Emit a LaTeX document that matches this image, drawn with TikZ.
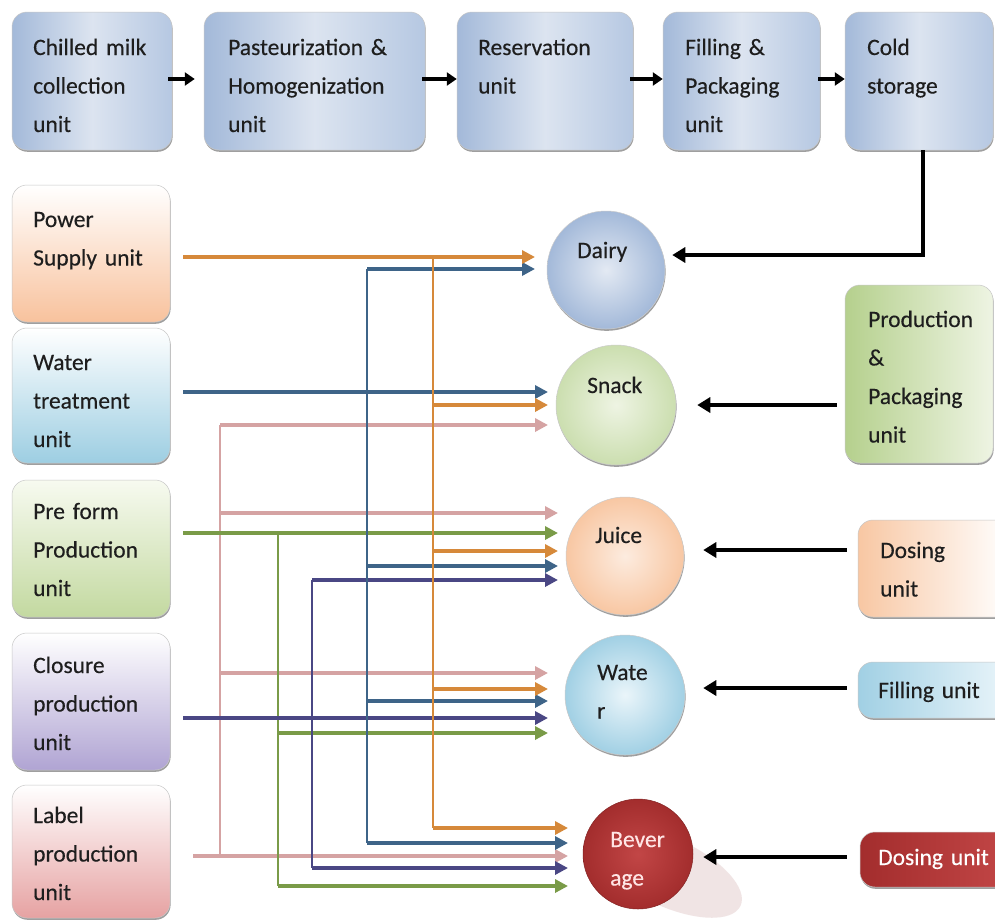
\documentclass[tikz,border=0pt]{standalone}
\usepackage{fontspec}
\setmainfont{Carlito}[FakeBold=0.35]
\usetikzlibrary{arrows.meta,shadows}
\definecolor{txtc}{HTML}{1E1E1E}
\definecolor{tpA}{HTML}{A3B9D9}
\definecolor{tpB}{HTML}{DCE4F0}
\definecolor{tpC}{HTML}{B6C8E2}
\definecolor{pwB}{HTML}{F8C29D}
\definecolor{wtB}{HTML}{9DCEE2}
\definecolor{pfT}{HTML}{F7FAF0}
\definecolor{pfB}{HTML}{C3D9A0}
\definecolor{clB}{HTML}{B0A4D3}
\definecolor{lbB}{HTML}{E6A2A2}
\definecolor{ppA}{HTML}{B5D08D}
\definecolor{ppB}{HTML}{EEF4E3}
\definecolor{d1A}{HTML}{F8C7A3}
\definecolor{fiA}{HTML}{A1D0E4}
\definecolor{fiB}{HTML}{EAF5FA}
\definecolor{d2A}{HTML}{A32D2D}
\definecolor{d2B}{HTML}{C24646}
\definecolor{cO}{HTML}{D6893A}
\definecolor{cB}{HTML}{3E6488}
\definecolor{cP}{HTML}{D5A3A3}
\definecolor{cG}{HTML}{7A9B48}
\definecolor{cU}{HTML}{4A4784}
\newcommand{\bxfont}{\fontsize{23.5}{38.5}\selectfont}
\begin{document}
\begin{tikzpicture}[x=1pt,y=-1pt,
  shd/.style={drop shadow={shadow xshift=0.6pt,shadow yshift=-1.8pt,fill=black!75,opacity=0.5}},
  bx/.style={rectangle,rounded corners=15pt,draw=black!22,line width=0.5pt,inner sep=0pt,shd},
  topbx/.style={bx,left color=tpA,right color=tpC,middle color=tpB},
  circ/.style={circle,inner sep=0pt,draw=black!20,line width=0.5pt,shd},
  txt/.style={font=\bxfont,align=left,text width=200pt,inner sep=0pt,anchor=base west,text=txtc},
  flow/.style={line width=3.8pt,-{Triangle[length=10pt,width=13pt]},black},
  feed/.style={line width=3.8pt,-{Triangle[length=13pt,width=15pt]},black},
  ln/.style={line width=3.6pt,-{Triangle[length=13pt,width=13pt]}},
  trunk/.style={line width=2.3pt},
]
\clip (0,0) rectangle (995,919);
\fill[white] (0,0) rectangle (995,919);

% top row
\node[topbx,minimum width=160pt,minimum height=138pt] (chilled) at (92,81) {};
\node[topbx,minimum width=221pt,minimum height=138pt] (past) at (314.5,81) {};
\node[topbx,minimum width=176pt,minimum height=138pt] (res) at (545,81) {};
\node[topbx,minimum width=157pt,minimum height=138pt] (fillpk) at (741.5,81) {};
\node[topbx,minimum width=148pt,minimum height=138pt] (cold) at (919,81) {};

% left boxes
\node[bx,top color=white,bottom color=pwB,minimum width=158pt,minimum height=137pt] (power) at (91,253.5) {};
\node[bx,top color=white,bottom color=wtB,minimum width=158pt,minimum height=135pt] (wtreat) at (91,395.5) {};
\node[bx,top color=pfT,bottom color=pfB,minimum width=158pt,minimum height=137pt] (preform) at (91,548.5) {};
\node[bx,top color=white,bottom color=clB,minimum width=158pt,minimum height=137pt] (closure) at (91,701.5) {};
\node[bx,top color=white,bottom color=lbB,minimum width=158pt,minimum height=133pt] (label) at (91,851.5) {};

% right boxes
\node[bx,left color=ppA,right color=ppB,minimum width=148pt,minimum height=178pt] (prodpack) at (919,374) {};
\node[bx,left color=d1A,right color=white,minimum width=152pt,minimum height=97pt] (dose1) at (934,568.5) {};
\node[bx,left color=fiA,right color=fiB,minimum width=152pt,minimum height=56pt] (filling) at (934,690) {};
\node[bx,left color=d2A,right color=d2B,minimum width=150pt,minimum height=55pt] (dose2) at (935,859.5) {};

% circles
\node[circ,inner color=tpB!80!white,outer color=tpA,minimum size=118pt] (dairy) at (606,270) {};
\node[circ,inner color=ppB,outer color=ppA!70!white,minimum size=120pt] (snack) at (616,405) {};
\node[circ,inner color=d1A!35!white,outer color=d1A,minimum size=118pt] (juice) at (625,556) {};
\node[circ,inner color=fiB,outer color=fiA,minimum size=120pt] (water) at (625,695) {};
\fill[red!30!gray!40,opacity=0.4] (668,872) ellipse [x radius=80, y radius=34, rotate=-25];
\node[circle,inner sep=0pt,inner color=d2B,outer color=d2A,draw=d2A!80!black,line width=0.5pt,minimum size=110pt] (bev) at (638,854) {};

% texts
\node[txt] (chilledT) at (33,55) {Chilled milk\\collection\\unit};
\node[txt] (pastT) at (228,55) {Pasteurization \&\\Homogenization\\unit};
\node[txt] (resT) at (478,55) {Reservation\\unit};
\node[txt] (fillpkT) at (685,55) {Filling \&\\Packaging\\unit};
\node[txt] (coldT) at (867,55) {Cold\\storage};
\node[txt] (powerT) at (33,227) {Power\\Supply unit};
\node[txt] (wtreatT) at (33,370) {Water\\treatment\\unit};
\node[txt] (preformT) at (33,519) {Pre form\\Production\\unit};
\node[txt] (closureT) at (33,673) {Closure\\production\\unit};
\node[txt] (labelT) at (33,823) {Label\\production\\unit};
\node[txt] (prodpackT) at (868,327) {Production\\\&\\Packaging\\unit};
\node[txt] (dose1T) at (880,558) {Dosing\\unit};
\node[txt] (fillingT) at (878,698) {Filling unit};
\node[txt,text=white] (dose2T) at (878,865) {Dosing unit};
\node[txt] (dairyT) at (577,258) {Dairy};
\node[txt] (snackT) at (587,393) {Snack};
\node[txt] (juiceT) at (595,543) {Juice};
\node[txt] (waterT) at (597,680) {Wate\\r};
\node[txt,text=white!90!red] (bevT) at (610,847) {Bever\\age};

% top flow arrows
\draw[flow,shorten <=-4pt,shorten >=9pt] (chilled.east |- 0,79) -- (past.west |- 0,79);
\draw[flow,shorten <=-3pt] (past.east |- 0,79) -- (res.west |- 0,79);
\draw[flow,shorten <=-3pt] (res.east |- 0,79) -- (fillpk.west |- 0,79);
\draw[flow,shorten <=-2pt] (fillpk.east |- 0,79) -- (cold.west |- 0,79);

% black feed arrows
\draw[feed,shorten >=7pt] (cold.south -| 923,0) |- (dairy.east |- 0,255);
\draw[feed,shorten <=8pt,shorten >=21pt] (prodpack.west |- 0,405) -- (snack.east |- 0,405);
\draw[feed,shorten <=11pt,shorten >=19pt] (dose1.west |- 0,550) -- (juice.east |- 0,550);
\draw[feed,shorten <=11pt,shorten >=18pt] (filling.west |- 0,688) -- (water.east |- 0,688);
\draw[feed,shorten <=13pt,shorten >=10pt] (dose2.west |- 0,857) -- (bev.east |- 0,857);

% coloured network
\coordinate (dIn) at (535,0);
\coordinate (sIn) at (548,0);
\coordinate (jIn) at (558,0);
\coordinate (wIn) at (548,0);
\coordinate (bIn) at (568,0);
\coordinate (oX) at (433,0);
\coordinate (bX) at (367,0);
\coordinate (pX) at (220,0);
\coordinate (gX) at (278,0);
\coordinate (uX) at (312,0);

% pink (label)
\draw[trunk,cP] (pX |- 0,425) -- (pX |- 0,856);
\draw[ln,cP,shorten <=23pt] (label.east |- 0,856) -- (bIn |- 0,856);
\draw[ln,cP] (pX |- 0,425) -- (sIn |- 0,425);
\draw[ln,cP] (pX |- 0,513) -- (jIn |- 0,513);
\draw[ln,cP] (pX |- 0,673) -- (wIn |- 0,673);

% green (preform)
\draw[trunk,cG] (gX |- 0,533) -- (gX |- 0,886);
\draw[ln,cG,shorten <=13pt] (preform.east |- 0,533) -- (jIn |- 0,533);
\draw[ln,cG] (gX |- 0,733) -- (wIn |- 0,733);
\draw[ln,cG] (gX |- 0,886) -- (bIn |- 0,886);

% purple (closure)
\draw[trunk,cU] (uX |- 0,580) -- (uX |- 0,868);
\draw[ln,cU,shorten <=13pt] (closure.east |- 0,718) -- (wIn |- 0,718);
\draw[ln,cU] (uX |- 0,580) -- (jIn |- 0,580);
\draw[ln,cU] (uX |- 0,868) -- (bIn |- 0,868);

% blue (water treatment)
\draw[trunk,cB] (bX |- 0,269) -- (bX |- 0,843);
\draw[ln,cB,shorten <=13pt] (wtreat.east |- 0,392) -- (sIn |- 0,392);
\draw[ln,cB] (bX |- 0,269) -- (dIn |- 0,269);
\draw[ln,cB] (bX |- 0,566) -- (jIn |- 0,566);
\draw[ln,cB] (bX |- 0,701) -- (wIn |- 0,701);
\draw[ln,cB] (bX |- 0,843) -- (bIn |- 0,843);

% orange (power)
\draw[trunk,cO] (oX |- 0,257) -- (oX |- 0,828);
\draw[ln,cO,shorten <=13pt] (power.east |- 0,257) -- (dIn |- 0,257);
\draw[ln,cO] (oX |- 0,405) -- (sIn |- 0,405);
\draw[ln,cO] (oX |- 0,551) -- (jIn |- 0,551);
\draw[ln,cO] (oX |- 0,689) -- (wIn |- 0,689);
\draw[ln,cO] (oX |- 0,828) -- (bIn |- 0,828);
\end{tikzpicture}
\end{document}
